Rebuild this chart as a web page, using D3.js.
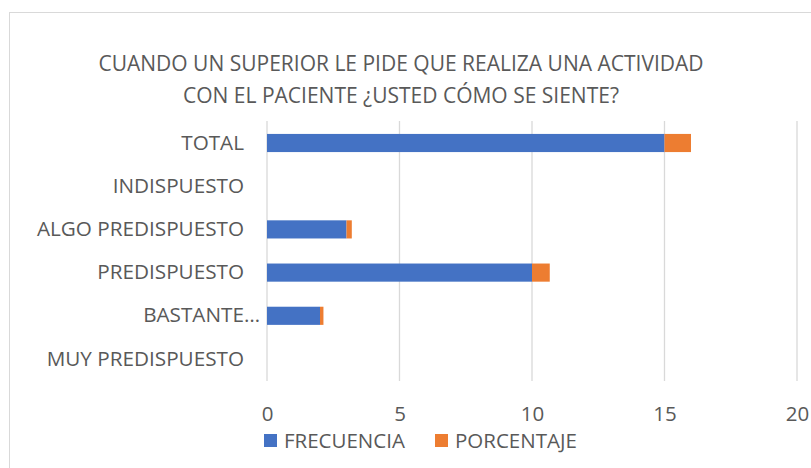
<!DOCTYPE html>
<html>
<head>
<meta charset="utf-8">
<script src="https://cdn.jsdelivr.net/npm/d3@7"></script>
<style>
  body { margin: 0; background: #fff; }
  svg { display: block; font-family: "Open Sans", sans-serif; }
</style>
</head>
<body>
<div id="content"></div>
<script>
// Données
var categories = ["TOTAL", "INDISPUESTO", "ALGO PREDISPUESTO", "PREDISPUESTO", "BASTANTE…", "MUY PREDISPUESTO"];
var frecuencia = [15, 0, 3, 10, 2, 0];
var porcentaje = [1, 0, 0.2, 0.67, 0.13, 0];
var seriesNames = ["FRECUENCIA", "PORCENTAJE"];
var xTicks = [0, 5, 10, 15, 20];
var titleLines = ["CUANDO UN SUPERIOR LE PIDE QUE REALIZA UNA ACTIVIDAD",
                  "CON EL PACIENTE ¿USTED CÓMO SE SIENTE?"];

var width = 811, height = 468;
var myColors = ["#4472C4", "#ED7D31"];
var textColor = "#595959";

var svg = d3.select("#content").append("svg")
    .attr("width", width)
    .attr("height", height);

// cadre du graphique
svg.append("rect")
    .attr("x", 9.5).attr("y", 12.5)
    .attr("width", width).attr("height", height)
    .attr("fill", "none")
    .attr("stroke", "#d9d9d9");

// Échelles
var x = d3.scaleLinear().domain([0, 20]).range([267, 797]);
var y = d3.scaleBand()
    .domain(categories)
    .range([121.4, 380.6])
    .paddingInner(0.58)
    .paddingOuter(0.29);
var color = d3.scaleOrdinal().domain(seriesNames).range(myColors);

// titre
svg.append("text")
    .attr("text-anchor", "middle")
    .attr("fill", textColor)
    .attr("font-size", 21)
    .selectAll("tspan")
    .data(titleLines)
  .join("tspan")
    .attr("x", 401)
    .attr("y", (d, i) => 71 + i * 32)
    .text(d => d);

// grille verticale
svg.append("g")
    .selectAll("line")
    .data(xTicks)
  .join("line")
    .attr("x1", d => x(d)).attr("x2", d => x(d))
    .attr("y1", 121).attr("y2", 381)
    .attr("stroke", "#d9d9d9")
    .attr("stroke-width", 1.3);

// barres empilées
var rows = categories.map((c, i) => ({cat: c, FRECUENCIA: frecuencia[i], PORCENTAJE: porcentaje[i]}));
var stacked = d3.stack().keys(seriesNames)(rows);

svg.append("g")
    .selectAll("g")
    .data(stacked)
  .join("g")
    .attr("fill", d => color(d.key))
    .selectAll("rect")
    .data(d => d.filter(p => p[1] > p[0]))
  .join("rect")
    .attr("x", d => x(d[0]))
    .attr("width", d => x(d[1]) - x(d[0]))
    .attr("y", d => y(d.data.cat))
    .attr("height", y.bandwidth());

// axe des catégories
var yAxis = svg.append("g")
    .attr("transform", "translate(244,0)")
    .call(d3.axisLeft(y).tickSize(0).tickPadding(0));
yAxis.select(".domain").remove();
yAxis.selectAll("text")
    .attr("fill", textColor)
    .attr("font-size", 20.7)
    .attr("font-family", "Open Sans")
    .attr("dx", d => d.endsWith("…") ? 16 : 0);

// axe des valeurs
var xAxis = svg.append("g")
    .attr("transform", "translate(0,406.5)")
    .call(d3.axisBottom(x).tickValues(xTicks).tickSize(0).tickPadding(0));
xAxis.select(".domain").remove();
xAxis.selectAll("text")
    .attr("fill", textColor)
    .attr("font-size", 20.5)
    .attr("font-family", "Open Sans");

// légende
var legend = svg.append("g")
    .selectAll("g")
    .data(seriesNames)
  .join("g")
    .attr("transform", (d, i) => "translate(" + (264 + i * 171) + ",434)");
legend.append("rect")
    .attr("width", 13).attr("height", 13)
    .attr("fill", d => color(d));
legend.append("text")
    .attr("x", 20).attr("y", 13.5)
    .attr("fill", textColor)
    .attr("font-size", 20.5)
    .text(d => d);
</script>
</body>
</html>
